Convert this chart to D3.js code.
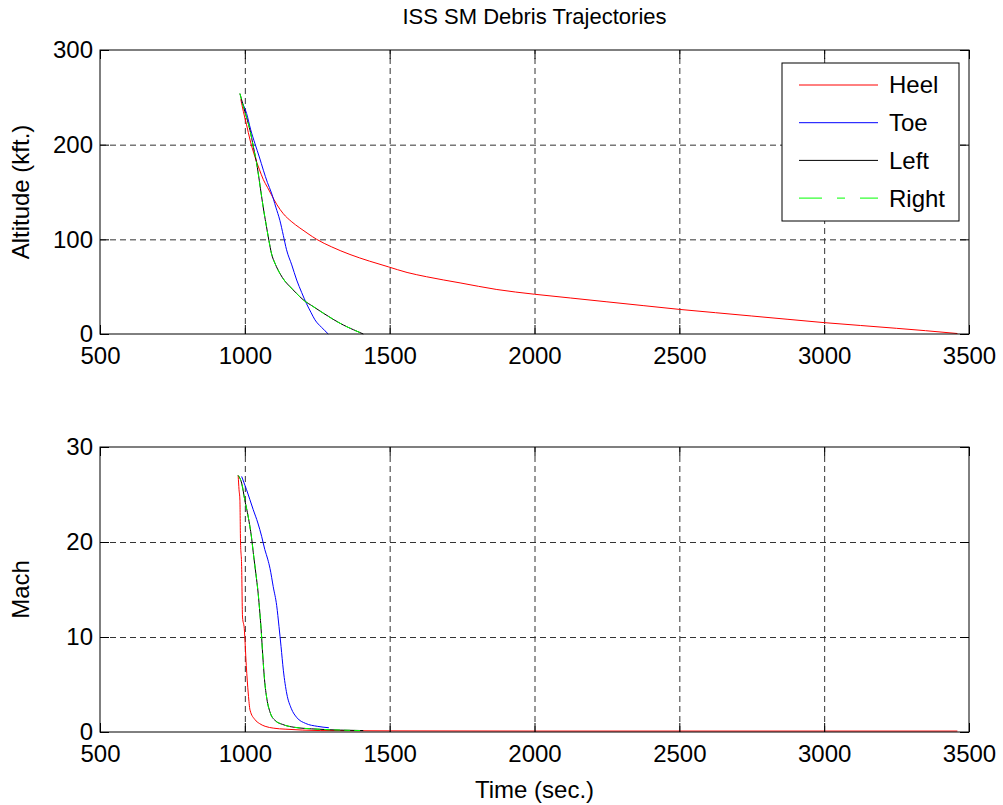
<!DOCTYPE html>
<html>
<head>
<meta charset="utf-8">
<script src="https://cdn.jsdelivr.net/npm/d3@7"></script>
<style>
  body { margin: 0; background: #fff; }
  svg text { font-family: "Liberation Sans", Arial, sans-serif; fill: #000; }
  .grid line { stroke: #333; stroke-dasharray: 6, 4; }
  .grid path { display: none; }
  .axis path, .axis line { stroke: #000; }
</style>
</head>
<body>
<svg id="chart" width="1003" height="805"></svg>
<script>
// data
const xTicks = [500, 1000, 1500, 2000, 2500, 3000, 3500];
const altTicks = [0, 100, 200, 300];
const machTicks = [0, 10, 20, 30];
const seriesNames = ["Heel", "Toe", "Left", "Right"];

const heelAltTime = [986, 995, 1006, 1018, 1035, 1050, 1064, 1078, 1092, 1110, 1133, 1160, 1190, 1218, 1248, 1300, 1363, 1430, 1495, 1560, 1627, 1743, 1870, 2000, 2125, 2250, 2375, 2500, 2625, 2750, 2875, 3000, 3125, 3250, 3350, 3460];
const heelAlt = [248, 235, 221, 205, 187, 174, 163, 155, 147, 137, 127, 119, 112, 106, 100, 92, 84, 77, 71, 65, 60.5, 54, 47, 42, 38, 34, 30, 26, 22.5, 19, 15.5, 12, 9, 6, 3.5, 0.5];
const toeAltTime = [990, 1006, 1020, 1035, 1050, 1064, 1078, 1092, 1107, 1121, 1133, 1144, 1162, 1179, 1196, 1213, 1228, 1242, 1265, 1288];
const toeAlt = [245, 233, 216, 201, 187, 173, 160, 149, 134, 120, 104, 89, 73, 57, 44, 32, 23, 15, 7, 0];
const leftAltTime = [983, 1000, 1018, 1030, 1041, 1050, 1058, 1066, 1075, 1083, 1092, 1105, 1121, 1138, 1156, 1178, 1202, 1236, 1271, 1305, 1340, 1375, 1409];
const leftAlt = [254, 235, 215, 197, 180, 162, 145, 129, 113, 99, 85, 74, 64, 56, 50, 43, 36, 29, 22, 15.5, 9.5, 4.5, 0];
const rightAltTime = [983, 1000, 1018, 1030, 1041, 1050, 1058, 1066, 1075, 1083, 1092, 1105, 1121, 1138, 1156, 1178, 1202, 1236, 1271, 1305, 1340, 1375, 1409];
const rightAlt = [254, 235, 215, 197, 180, 162, 145, 129, 113, 99, 85, 74, 64, 56, 50, 43, 36, 29, 22, 15.5, 9.5, 4.5, 0];

const heelMachTime = [977, 980, 983, 985, 989, 992, 998, 1005, 1012, 1018, 1035, 1050, 1070, 1100, 1139, 1200, 1260, 1500, 2000, 2500, 3000, 3460];
const heelMach = [27, 25.5, 24.4, 20.2, 17.4, 12.1, 10.9, 7, 4, 2.3, 1.3, 0.9, 0.6, 0.4, 0.3, 0.2, 0.15, 0.12, 0.1, 0.1, 0.1, 0.1];
const toeMachTime = [989, 1006, 1029, 1045, 1058, 1069, 1079, 1087, 1098, 1110, 1118, 1125, 1133, 1145, 1160, 1180, 1210, 1250, 1290];
const toeMach = [26.9, 25.5, 23.4, 22, 20.6, 19.2, 18.2, 17.2, 15.3, 13.3, 11.1, 9, 6.5, 4, 2.5, 1.5, 0.9, 0.6, 0.45];
const leftMachTime = [977, 989, 1000, 1012, 1023, 1031, 1038, 1046, 1052, 1056, 1062, 1068, 1076, 1088, 1105, 1130, 1170, 1250, 1330, 1409];
const leftMach = [27, 26.2, 24.4, 22.6, 20.5, 18.4, 16.7, 14.6, 12.5, 10.9, 8, 5.5, 3.5, 2, 1.2, 0.8, 0.5, 0.3, 0.2, 0.15];
const rightMachTime = [977, 989, 1000, 1012, 1023, 1031, 1038, 1046, 1052, 1056, 1062, 1068, 1076, 1088, 1105, 1130, 1170, 1250, 1330, 1409];
const rightMach = [27, 26.2, 24.4, 22.6, 20.5, 18.4, 16.7, 14.6, 12.5, 10.9, 8, 5.5, 3.5, 2, 1.2, 0.8, 0.5, 0.3, 0.2, 0.15];

const seriesColors = { Heel: "#ff0000", Toe: "#0000ff", Left: "#000000", Right: "#00ff00" };
const seriesDash = { Heel: null, Toe: null, Left: null, Right: "6, 4" };

const svg = d3.select("svg#chart");
const plotLeft = 100;
const plotRight = 969;
const tickLen = 9;
const fontSize = 24;

const xScale = d3.scaleLinear().domain([500, 3500]).range([plotLeft, plotRight]);

function drawPanel(top, bottom, yTicks, yLabel, series) {
    const yScale = d3.scaleLinear().domain([yTicks[0], yTicks[yTicks.length - 1]]).range([bottom, top]);
    const g = svg.append("g");
    const w = plotRight - plotLeft;
    const h = bottom - top;

    // gridlines (inner ticks only)
    g.append("g")
        .attr("class", "grid")
        .attr("transform", `translate(0,${bottom})`)
        .call(d3.axisBottom(xScale).tickValues(xTicks.slice(1, -1)).tickSize(-h).tickFormat(""));
    g.append("g")
        .attr("class", "grid")
        .attr("transform", `translate(${plotLeft},0)`)
        .call(d3.axisLeft(yScale).tickValues(yTicks.slice(1, -1)).tickSize(-w).tickFormat(""));

    // lines
    series.forEach((s) => {
        const pts = s.t.map((t, i) => [t, s.v[i]]);
        g.append("path")
            .datum(pts)
            .attr("fill", "none")
            .attr("stroke", seriesColors[s.name])
            .attr("stroke-width", 1)
            .attr("stroke-dasharray", seriesDash[s.name])
            .attr("d", d3.line().curve(d3.curveMonotoneX).x((d) => xScale(d[0])).y((d) => yScale(d[1])));
    });

    // box axes with inward ticks
    const bottomAxis = g.append("g").attr("class", "axis")
        .attr("transform", `translate(0,${bottom})`)
        .call(d3.axisBottom(xScale).tickValues(xTicks).tickFormat(d3.format("d"))
            .tickSizeInner(-tickLen).tickSizeOuter(0).tickPadding(13));
    bottomAxis.selectAll("text").style("font-size", fontSize + "px");
    g.append("g").attr("class", "axis")
        .attr("transform", `translate(0,${top})`)
        .call(d3.axisTop(xScale).tickValues(xTicks).tickSizeInner(-tickLen).tickSizeOuter(0).tickFormat(""));
    const leftAxis = g.append("g").attr("class", "axis")
        .attr("transform", `translate(${plotLeft},0)`)
        .call(d3.axisLeft(yScale).tickValues(yTicks).tickFormat(d3.format("d"))
            .tickSizeInner(-tickLen).tickSizeOuter(0));
    leftAxis.selectAll("text").style("font-size", fontSize + "px").attr("x", -7);
    g.append("g").attr("class", "axis")
        .attr("transform", `translate(${plotRight},0)`)
        .call(d3.axisRight(yScale).tickValues(yTicks).tickSizeInner(-tickLen).tickSizeOuter(0).tickFormat(""));
    g.selectAll(".axis .domain").remove();
    g.append("rect")
        .attr("x", plotLeft).attr("y", top)
        .attr("width", w).attr("height", h)
        .attr("fill", "none").attr("stroke", "#000").attr("stroke-width", 1);

    // y label
    g.append("text")
        .text(yLabel)
        .attr("transform", `translate(29,${(top + bottom) / 2}) rotate(-90)`)
        .attr("text-anchor", "middle")
        .style("font-size", fontSize + "px");
}

drawPanel(50, 334, altTicks, "Altitude (kft.)", [
    { name: "Heel", t: heelAltTime, v: heelAlt },
    { name: "Toe", t: toeAltTime, v: toeAlt },
    { name: "Left", t: leftAltTime, v: leftAlt },
    { name: "Right", t: rightAltTime, v: rightAlt }
]);
drawPanel(447, 732, machTicks, "Mach", [
    { name: "Heel", t: heelMachTime, v: heelMach },
    { name: "Toe", t: toeMachTime, v: toeMach },
    { name: "Left", t: leftMachTime, v: leftMach },
    { name: "Right", t: rightMachTime, v: rightMach }
]);

// title and x label
svg.append("text")
    .text("ISS SM Debris Trajectories")
    .attr("x", (plotLeft + plotRight) / 2)
    .attr("y", 24)
    .attr("text-anchor", "middle")
    .style("font-size", "22px");
svg.append("text")
    .text("Time (sec.)")
    .attr("x", (plotLeft + plotRight) / 2)
    .attr("y", 798)
    .attr("text-anchor", "middle")
    .style("font-size", fontSize + "px");

// legend
const legend = svg.append("g");
legend.append("rect")
    .attr("x", 782).attr("y", 63)
    .attr("width", 177).attr("height", 158)
    .attr("fill", "#fff").attr("stroke", "#000");
seriesNames.forEach((name, i) => {
    const y = 85 + i * 37.7;
    legend.append("line")
        .attr("x1", 799).attr("x2", 878)
        .attr("y1", y).attr("y2", y)
        .attr("stroke", seriesColors[name])
        .attr("stroke-dasharray", name === "Right" ? "23, 15, 8, 15, 18" : null);
    legend.append("text")
        .text(name)
        .attr("x", 889)
        .attr("y", y)
        .attr("dy", "0.35em")
        .style("font-size", fontSize + "px");
});
</script>
</body>
</html>
